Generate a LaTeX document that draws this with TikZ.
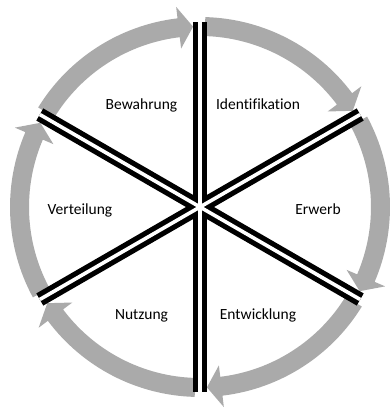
\documentclass[tikz,border=0pt]{standalone}
\usepackage{fontspec}
\setmainfont[Ligatures=CommonOff]{Carlito}
\usetikzlibrary{calc}
\definecolor{ringgray}{RGB}{170,170,170}
\tikzset{
  ringseg/.style={fill=ringgray, draw=none},
  spokeblack/.style={draw=black, line width=14pt, line cap=butt},
  spokewhite/.style={draw=white, line width=3.6pt, line cap=butt},
  lbl/.style={anchor=base, inner sep=0pt, font=\fontsize{15.5}{18}\selectfont, text=black}
}
\begin{document}
\begin{tikzpicture}[x=1pt,y=1pt]
\useasboundingbox (0,0) rectangle (390,410);
\coordinate (c) at (200,203);
% ring segments with arrowheads
\begin{scope}[shift={(200,203)}]
\foreach \a in {90,30,-30,-90,-150,150}{
  \pgfmathsetmacro{\sa}{\a-1.6}
  \pgfmathsetmacro{\ea}{\a-60+6.8}
  \pgfmathsetmacro{\ta}{\a-60+2.2}
  \fill[ringseg] (\sa:190) arc[start angle=\sa, end angle=\ea, radius=190]
     -- (\ea:201.5) -- (\ta:180.5) -- (\ea:159.5) -- (\ea:171)
     arc[start angle=\ea, end angle=\sa, radius=171] -- cycle;
}
\end{scope}
% spokes
\foreach \i/\a in {1/90,2/30,3/-30,4/-90,5/-150,6/150}{
  \coordinate (s\i) at ($(c)+(\a:185)$);
}
\foreach \i in {1,...,6}{ \draw[spokeblack] (c) -- (s\i); }
\foreach \i in {1,...,6}{ \draw[spokewhite] (c) -- (s\i); }
\fill[white] (c) circle[radius=4];
% labels
\node[lbl] (bew) at (141.5,300) {Bewahrung};
\node[lbl] (ide) at (258,300) {Identifikation};
\node[lbl] (ver) at (80,195) {Verteilung};
\node[lbl] (erw) at (318,195) {Erwerb};
\node[lbl] (nut) at (141.5,90) {Nutzung};
\node[lbl] (ent) at (258,90) {Entwicklung};
\end{tikzpicture}
\end{document}
